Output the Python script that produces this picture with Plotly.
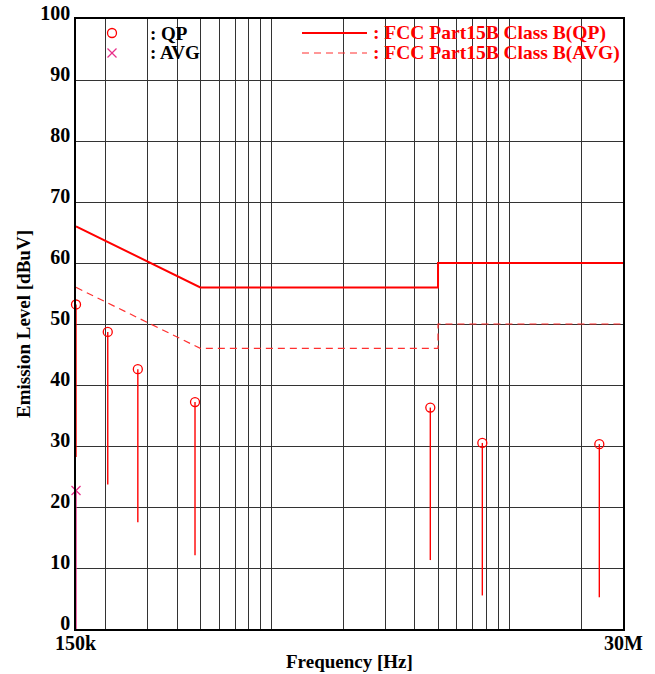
import plotly.graph_objects as go
import math

# ---- data ----
qp_freq = [150e3, 204e3, 273e3, 475e3, 4.64e6, 7.68e6, 23.85e6]
qp_level = [53.2, 48.7, 42.6, 37.2, 36.3, 30.5, 30.3]
stem_low = [28.2, 23.7, 17.5, 12.1, 11.3, 5.5, 5.2]
avg_freq = [150e3]
avg_level = [22.7]

lim_freq = [150e3, 500e3, 5e6, 5e6, 30e6]
lim_qp = [66, 56, 56, 60, 60]
lim_avg = [56, 46, 46, 50, 50]

grid_freqs = [150e3, 200e3, 300e3, 400e3, 500e3, 600e3, 700e3, 800e3, 900e3,
              1e6, 2e6, 3e6, 4e6, 5e6, 6e6, 7e6, 8e6, 9e6, 10e6, 20e6, 30e6]
x_label_freqs = [150e3, 30e6]
x_label_text = ["150k", "30M"]
y_ticks = list(range(0, 101, 10))

FONT = "Liberation Serif"
RED = "#ff0000"
MAG = "#e8308a"

fig = go.Figure()

# limit lines
fig.add_trace(go.Scatter(x=lim_freq, y=lim_qp, mode="lines",
                         line=dict(color=RED, width=2), showlegend=False, hoverinfo="skip"))
fig.add_trace(go.Scatter(x=lim_freq, y=lim_avg, mode="lines",
                         line=dict(color="#ff3030", width=1.2, dash="7px,5px"), showlegend=False, hoverinfo="skip"))

# stems
sx, sy = [], []
for f, hi, lo in zip(qp_freq, qp_level, stem_low):
    sx += [f, f, None]
    sy += [hi, lo, None]
fig.add_trace(go.Scatter(x=sx, y=sy, mode="lines", line=dict(color=RED, width=1.4),
                         showlegend=False, hoverinfo="skip", cliponaxis=False))
# avg stem
ax_, ay_ = [], []
for f, v in zip(avg_freq, avg_level):
    ax_ += [f, f, None]
    ay_ += [v, 0, None]
fig.add_trace(go.Scatter(x=ax_, y=ay_, mode="lines", line=dict(color=MAG, width=1.4),
                         showlegend=False, hoverinfo="skip", cliponaxis=False))

fig.add_trace(go.Scatter(x=qp_freq, y=qp_level, mode="markers",
                         marker=dict(symbol="circle-open", size=9, color=RED, line=dict(width=1.3)),
                         showlegend=False, cliponaxis=False))
fig.add_trace(go.Scatter(x=avg_freq, y=avg_level, mode="markers",
                         marker=dict(symbol="x-thin-open", size=9, color=MAG, line=dict(width=1.3, color=MAG)),
                         showlegend=False, cliponaxis=False))

# ---- legend (drawn manually) ----
L, T, W, H = 76, 19, 547, 610
def px(x):
    return (x - L) / W
def py(y):
    return (T + H - y) / H

shapes = []
shapes.append(dict(type="circle", xref="paper", yref="paper", xsizemode="pixel", ysizemode="pixel",
                   xanchor=px(112), yanchor=py(33), x0=-4.5, x1=4.5, y0=-4.5, y1=4.5,
                   line=dict(color=RED, width=1.3)))
for (a, b) in [(-4.5, 4.5), (4.5, -4.5)]:
    shapes.append(dict(type="line", xref="paper", yref="paper", xsizemode="pixel", ysizemode="pixel",
                       xanchor=px(112), yanchor=py(53), x0=-4.5, x1=4.5, y0=a, y1=b,
                       line=dict(color=MAG, width=1.3)))
shapes.append(dict(type="line", xref="paper", yref="paper", x0=px(302), x1=px(367), y0=py(33), y1=py(33),
                   line=dict(color=RED, width=2)))
shapes.append(dict(type="line", xref="paper", yref="paper", x0=px(302), x1=px(367), y0=py(53), y1=py(53),
                   line=dict(color="#ff3030", width=1.2, dash="7px,5px")))

annotations = []
legend_texts = [(148, 33, ": QP", "black", 19), (148, 53, ": AVG", "black", 19),
                (371, 33, ": FCC Part15B Class B(QP)", RED, 19.5), (371, 53, ": FCC Part15B Class B(AVG)", RED, 19.5)]
for x, y, t, c, s in legend_texts:
    annotations.append(dict(xref="paper", yref="paper", x=px(x), y=py(y), text="<b>%s</b>" % t,
                            showarrow=False, xanchor="left", yanchor="middle",
                            font=dict(family=FONT, size=s, color=c)))
# x tick labels at the two ends of the frequency axis
for f, t in zip(x_label_freqs, x_label_text):
    annotations.append(dict(xref="x", yref="paper", x=math.log10(f), y=0, text="<b>%s</b>" % t,
                            showarrow=False, xanchor="center", yanchor="top", yshift=-1,
                            font=dict(family=FONT, size=20, color="black")))
# x axis title
annotations.append(dict(xref="paper", yref="paper", x=px(349), y=py(661), text="<b>Frequency [Hz]</b>",
                        showarrow=False, xanchor="center", yanchor="middle",
                        font=dict(family=FONT, size=19, color="black")))

fig.update_layout(
    width=655, height=674,
    margin=dict(l=L, r=655 - L - W, t=T, b=674 - T - H, autoexpand=False),
    paper_bgcolor="white", plot_bgcolor="white",
    font=dict(family=FONT, color="black"),
    shapes=shapes, annotations=annotations,
    showlegend=False,
)
fig.update_xaxes(type="log", range=[math.log10(149.99e3), math.log10(30e6)],
                 tickvals=grid_freqs, showticklabels=False,
                 showgrid=True, gridcolor="#333333", gridwidth=1, automargin=False,
                 showline=True, linecolor="black", linewidth=1.5, mirror=True,
                 ticks="", zeroline=False)
fig.update_yaxes(range=[0, 100], tickvals=y_ticks, ticktext=[str(v) for v in y_ticks],
                 showgrid=True, gridcolor="#333333", gridwidth=1, automargin=False,
                 showline=True, linecolor="black", linewidth=1.5, mirror=True,
                 ticks="", ticklabelposition="outside top", ticklabeloverflow="allow",
                 ticklabelshift=8,
                 tickfont=dict(family=FONT, size=20, color="black", weight="bold"),
                 title=dict(text="<b>Emission Level [dBuV]</b>", font=dict(family=FONT, size=19), standoff=5),
                 zeroline=False)

fig.write_html("out.html", config={"displayModeBar": False},
               post_script="document.body.style.margin='0';document.body.style.overflow='hidden';")
